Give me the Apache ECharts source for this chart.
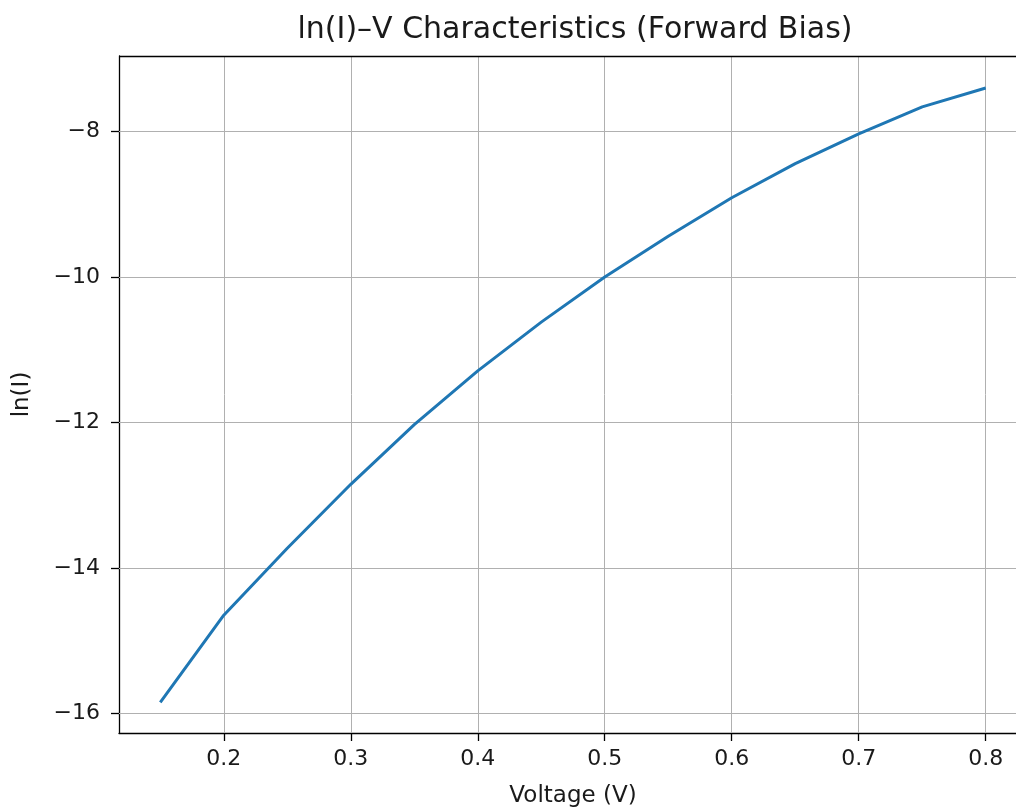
<!DOCTYPE html>
<html><head><meta charset="utf-8">
<script src="https://cdn.jsdelivr.net/npm/echarts@6/dist/echarts.min.js"></script>
<style>html,body{margin:0;padding:0;background:#fff}#c{width:1016px;height:810px}</style>
</head><body><div id="c"></div>
<script>
const voltage = [0.15, 0.2, 0.25, 0.3, 0.35, 0.4, 0.45, 0.5, 0.55, 0.6, 0.65, 0.7, 0.75, 0.8];
const lnI = [-15.85, -14.65, -13.73, -12.85, -12.03, -11.29, -10.62, -10.0, -9.44, -8.91, -8.44, -8.03, -7.66, -7.40];
const xTicks = [0.2, 0.3, 0.4, 0.5, 0.6, 0.7, 0.8];
const yTicks = [-16, -14, -12, -10, -8];
const FONT = "'DejaVu Sans', sans-serif";
const chart = echarts.init(document.getElementById('c'));
chart.setOption({
  animation: false,
  title: {text: 'ln(I)–V Characteristics (Forward Bias)', left: 570, top: 10, textAlign: 'center',
    textStyle: {fontFamily: FONT, fontWeight: 'normal', fontSize: 30, color: '#1a1a1a'}},
  grid: {left: 119, top: 56, width: 908, bottom: 77, containLabel: false, outerBoundsMode: 'none'},
  xAxis: {type: 'value', min: 0.1175, max: 0.8325,
    name: 'Voltage (V)', nameLocation: 'middle', nameGap: 52,
    nameTextStyle: {fontFamily: FONT, fontSize: 23, color: '#1a1a1a'},
    axisLine: {show: true, onZero: false, lineStyle: {color: '#000', width: 1.3}},
    axisTick: {show: true, length: 8, customValues: xTicks, lineStyle: {color: '#000', width: 1.3}},
    axisLabel: {customValues: xTicks, fontFamily: FONT, fontSize: 22, color: '#1a1a1a', margin: 15,
      formatter: v => v.toFixed(1)},
    splitLine: {show: false}},
  yAxis: {type: 'value', min: -16.27, max: -6.96,
    name: 'ln(I)', nameLocation: 'middle', nameGap: 85, nameRotate: 90,
    nameTextStyle: {fontFamily: FONT, fontSize: 23, color: '#1a1a1a'},
    axisLine: {show: true, onZero: false, lineStyle: {color: '#000', width: 1.3}},
    axisTick: {show: true, length: 8, customValues: yTicks, lineStyle: {color: '#000', width: 1.3}},
    axisLabel: {customValues: yTicks, fontFamily: FONT, fontSize: 22, color: '#1a1a1a', margin: 19,
      formatter: v => (v < 0 ? '\u2212' + Math.abs(v) : String(v))},
    splitLine: {show: false}},
  series: [{
    type: 'line', data: voltage.map((v, i) => [v, lnI[i]]), showSymbol: false,
    lineStyle: {color: '#1f77b4', width: 3}, z: 5,
    markLine: {silent: true, symbol: 'none', label: {show: false}, lineStyle: {color: '#b0b0b0', width: 1, type: 'solid'}, z: 1,
      data: xTicks.map(t => ({xAxis: t})).concat(yTicks.map(t => ({yAxis: t})))}
  }, {
    type: 'line', data: [], markLine: {silent: true, symbol: 'none', label: {show: false}, data: [{yAxis: -6.96}], lineStyle: {color: '#000', width: 1.3, type: 'solid'}}
  }]
});
</script></body></html>
